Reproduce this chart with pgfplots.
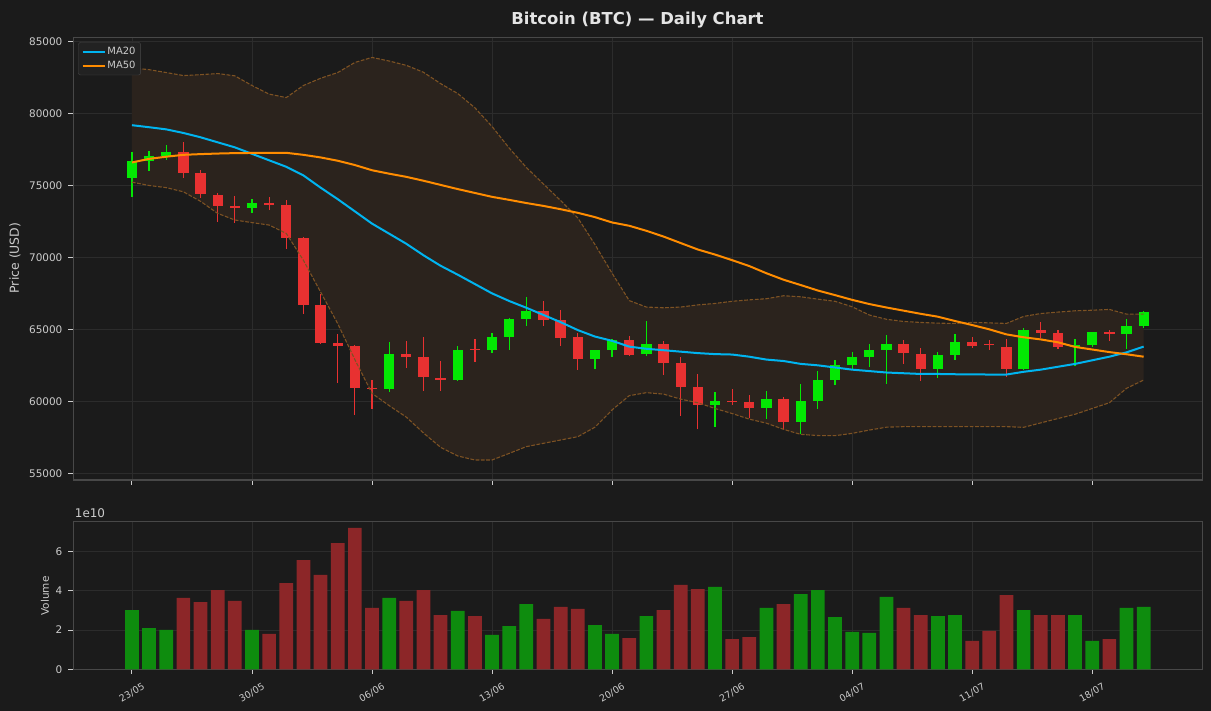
\documentclass[border=0pt]{standalone}
\usepackage{fontspec}
\setmainfont{DejaVu Sans}
\usepackage{pgfplots}
\pgfplotsset{compat=1.18}
\usepackage{pgfplotstable}

\definecolor{bg}{RGB}{27,27,27}
\definecolor{gridc}{RGB}{44,44,44}
\definecolor{spine}{RGB}{72,72,72}
\definecolor{txt}{RGB}{204,204,204}
\definecolor{ttl}{RGB}{228,228,228}
\definecolor{cgreen}{RGB}{3,232,3}
\definecolor{cred}{RGB}{232,49,49}
\definecolor{vgreen}{RGB}{14,140,14}
\definecolor{vred}{RGB}{140,38,40}
\definecolor{maA}{RGB}{0,180,240}
\definecolor{maB}{RGB}{255,140,0}
\definecolor{bandfill}{RGB}{43,35,29}
\definecolor{bandline}{RGB}{125,82,35}
\definecolor{legfill}{RGB}{34,34,34}

% moving averages and bands
\pgfplotstableread{
d ma20 ma50 up lo
0 79190 76600 83170 75230
1 79050 76850 83050 75000
2 78900 77000 82850 74850
3 78650 77130 82640 74560
4 78350 77180 82700 73900
5 78000 77220 82780 73060
6 77650 77250 82620 72600
7 77200 77260 81950 72420
8 76750 77270 81350 72250
9 76300 77270 81110 71670
10 75700 77130 81950 69800
11 74850 76950 82450 67600
12 74050 76720 82850 65400
13 73200 76420 83550 62900
14 72350 76060 83900 60550
15 71650 75820 83650 59700
16 70950 75600 83350 58900
17 70150 75330 82870 57800
18 69420 75040 82080 56800
19 68800 74750 81390 56200
20 68150 74480 80400 55920
21 67500 74210 79100 55920
22 66970 74000 77600 56380
23 66500 73780 76250 56850
24 66000 73580 75100 57080
25 65500 73350 73950 57310
26 64950 73100 72750 57540
27 64500 72800 70900 58200
28 64200 72430 68900 59400
29 63800 72200 67000 60390
30 63650 71850 66550 60600
31 63550 71450 66500 60500
32 63450 71000 66550 60150
33 63350 70550 66700 59900
34 63280 70200 66800 59500
35 63250 69810 66950 59150
36 63100 69400 67050 58760
37 62900 68900 67130 58480
38 62800 68450 67335 58050
39 62600 68080 67265 57700
40 62500 67700 67100 57620
41 62350 67380 66950 57610
42 62200 67050 66570 57770
43 62100 66760 66000 58000
44 62000 66520 65700 58200
45 61950 66300 65550 58237
46 61900 66080 65480 58237
47 61900 65880 65430 58237
48 61880 65580 65413 58237
49 61870 65300 65483 58237
50 61860 65000 65450 58237
51 61860 64650 65413 58237
52 62050 64450 65900 58191
53 62200 64300 66100 58500
54 62400 64100 66200 58800
55 62600 63780 66290 59100
56 62850 63600 66330 59500
57 63100 63420 66385 59900
58 63400 63270 66060 60900
59 63800 63100 66060 61480
}\matable

% band outline: upper edge forward, lower edge backward
\pgfplotstableread{
x y
0 83170
1 83050
2 82850
3 82640
4 82700
5 82780
6 82620
7 81950
8 81350
9 81110
10 81950
11 82450
12 82850
13 83550
14 83900
15 83650
16 83350
17 82870
18 82080
19 81390
20 80400
21 79100
22 77600
23 76250
24 75100
25 73950
26 72750
27 70900
28 68900
29 67000
30 66550
31 66500
32 66550
33 66700
34 66800
35 66950
36 67050
37 67130
38 67335
39 67265
40 67100
41 66950
42 66570
43 66000
44 65700
45 65550
46 65480
47 65430
48 65413
49 65483
50 65450
51 65413
52 65900
53 66100
54 66200
55 66290
56 66330
57 66385
58 66060
59 66060
59 61480
58 60900
57 59900
56 59500
55 59100
54 58800
53 58500
52 58191
51 58237
50 58237
49 58237
48 58237
47 58237
46 58237
45 58237
44 58200
43 58000
42 57770
41 57610
40 57620
39 57700
38 58050
37 58480
36 58760
35 59150
34 59500
33 59900
32 60150
31 60500
30 60600
29 60390
28 59400
27 58200
26 57540
25 57310
24 57080
23 56850
22 56380
21 55920
20 55920
19 56200
18 56800
17 57800
16 58900
15 59700
14 60550
13 62900
12 65400
11 67600
10 69800
9 71670
8 72250
7 72420
6 72600
5 73060
4 73900
3 74560
2 74850
1 75000
0 75230
}\bandpoly

% green candles: wicks (low, high) and bodies (open, close)
\pgfplotstableread{
x y
0 74212
0 77314
0 nan
1 76018
1 77384
1 nan
2 76782
2 77800
2 nan
7 73101
7 74050
7 nan
15 60670
15 64119
15 nan
19 61410
19 63841
19 nan
21 63378
21 64744
21 nan
22 63587
22 65786
22 nan
23 65253
23 67244
23 nan
27 62267
27 63600
27 nan
28 63101
28 64328
28 nan
30 63170
30 65578
30 nan
34 58239
34 60647
34 nan
37 58795
37 60716
37 nan
39 57704
39 61202
39 nan
40 59489
40 62105
40 nan
41 61156
41 62869
41 nan
42 62198
42 63425
42 nan
43 62406
43 63980
43 nan
44 61225
44 64605
44 nan
47 61642
47 63425
47 nan
48 62892
48 64675
48 nan
52 62198
52 65092
52 nan
55 62475
55 64328
55 nan
56 63795
56 64814
56 nan
58 63656
58 65717
58 nan
59 65115
59 66272
59 nan
}\gwick

\pgfplotstableread{
x y
0 75532
0 76689
0 nan
1 76712
1 77036
1 nan
2 77036
2 77314
2 nan
7 73448
7 73772
7 nan
15 60878
15 63285
15 nan
19 61480
19 63563
19 nan
21 63587
21 64466
21 nan
22 64489
22 65716
22 nan
23 65740
23 66249
23 nan
27 62962
27 63564
27 nan
28 63587
28 64258
28 nan
30 63309
30 63980
30 nan
34 59744
34 60022
34 nan
37 59559
37 60161
37 nan
39 58586
39 60022
39 nan
40 60045
40 61480
40 nan
41 61503
41 62522
41 nan
42 62545
42 63077
42 nan
43 63100
43 63564
43 nan
44 63587
44 63980
44 nan
47 62267
47 63216
47 nan
48 63240
48 64119
48 nan
52 62267
52 64953
52 nan
55 63795
55 63911
55 nan
56 63934
56 64814
56 nan
58 64698
58 65230
58 nan
59 65253
59 66203
59 nan
}\gbody

% red candles
\pgfplotstableread{
x y
3 75532
3 78009
3 nan
4 74143
4 76064
4 nan
5 72476
5 74467
5 nan
6 72407
6 74258
6 nan
8 73286
8 74189
8 nan
9 70577
9 73981
9 nan
10 66064
10 71420
10 nan
11 63980
11 67429
11 nan
12 61294
12 64675
12 nan
13 59072
13 63887
13 nan
14 59489
14 61479
14 nan
16 62336
16 64188
16 nan
17 60739
17 64494
17 nan
18 60739
18 62800
18 nan
20 62753
20 64328
20 nan
24 65253
24 66967
24 nan
25 63864
25 66342
25 nan
26 62198
26 64744
26 nan
29 63147
29 64536
29 nan
31 61850
31 64189
31 nan
32 59003
32 63077
32 nan
33 58051
33 61894
33 nan
35 59767
35 60855
35 nan
36 58841
36 60438
36 nan
38 58074
38 60300
38 nan
45 62614
45 64258
45 nan
46 61434
46 63703
46 nan
49 63726
49 64466
49 nan
50 63587
50 64258
50 nan
51 61712
51 64328
51 nan
53 64420
53 65508
53 nan
54 63656
54 64953
54 nan
57 64212
57 64953
57 nan
}\rwick

\pgfplotstableread{
x y
3 77314
3 75879
3 nan
4 75856
4 74420
4 nan
5 74328
5 73587
5 nan
6 73564
6 73448
6 nan
8 73772
8 73657
8 nan
9 73633
9 71365
9 nan
10 71342
10 66712
10 nan
11 66689
11 64072
11 nan
12 64049
12 63864
12 nan
13 63841
13 60947
13 nan
14 60947
14 60855
14 nan
16 63285
16 63100
16 nan
17 63077
17 61711
17 nan
18 61595
18 61480
18 nan
20 63620
20 63580
20 nan
24 66249
24 65670
24 nan
25 65647
25 64420
25 nan
26 64466
26 62962
26 nan
29 64258
29 63239
29 nan
31 63980
31 62684
31 nan
32 62661
32 61017
32 nan
33 60994
33 59767
33 nan
35 60022
35 59975
35 nan
36 59952
36 59559
36 nan
38 60161
38 58586
38 nan
45 63980
45 63332
45 nan
46 63286
46 62267
46 nan
49 64119
49 63865
49 nan
50 63960
50 63940
50 nan
51 63772
51 62267
51 nan
53 64953
53 64767
53 nan
54 64744
54 63795
54 nan
57 64814
57 64698
57 nan
}\rbody

% volume (units of 1e10)
\pgfplotstableread{
d v
0 3.01
1 2.10
2 2.00
7 2.00
15 3.63
19 2.97
21 1.75
22 2.20
23 3.32
27 2.25
28 1.80
30 2.71
34 4.19
37 3.12
39 3.83
40 4.03
41 2.66
42 1.90
43 1.85
44 3.68
47 2.71
48 2.76
52 3.01
55 2.76
56 1.44
58 3.12
59 3.17
}\volg

\pgfplotstableread{
d v
3 3.63
4 3.42
5 4.03
6 3.48
8 1.80
9 4.39
10 5.56
11 4.80
12 6.42
13 7.19
14 3.12
16 3.48
17 4.03
18 2.76
20 2.71
24 2.56
25 3.17
26 3.07
29 1.59
31 3.01
32 4.29
33 4.08
35 1.54
36 1.64
38 3.32
45 3.12
46 2.76
49 1.44
50 1.95
51 3.78
53 2.76
54 2.76
57 1.54
}\volr

\pgfplotsset{
  darkax/.style={
    scale only axis,
    anchor=south west,
    width=1129bp,
    xmin=-3.42, xmax=62.42,
    axis line style={spine, line width=1.1bp},
    grid=major,
    major grid style={gridc, line width=0.8bp},
    tick align=outside,
    major tick length=4.9bp,
    tick style={txt, line width=0.9bp},
    xtick pos=bottom, ytick pos=left,
    xtick={0,7,...,56},
    scaled y ticks=false,
    /pgf/number format/assume math mode=true,
    /pgf/number format/1000 sep={},
    ticklabel style={color=txt, font=\fontsize{10.5}{12}\selectfont},
    yticklabel shift=2.5bp,
  }
}

\begin{document}
\begin{tikzpicture}
\fill[bg] (0,0) rectangle (1211bp,711bp);

% ---------- price axis ----------
\begin{axis}[darkax,
  at={(73.3bp,231bp)},
  height=442.7bp,
  ymin=54530, ymax=85300,
  ytick={55000,60000,...,85000},
  xticklabels={},
  legend style={at={(0,1)}, anchor=north west, xshift=5bp, yshift=-5bp,
    fill=legfill, draw=spine, rounded corners=2bp, text=txt,
    font=\fontsize{10}{12}\selectfont, inner xsep=3bp, inner ysep=3bp,
    row sep=0.8bp},
  legend cell align=left,
  legend image code/.code={\draw[#1, line width=2bp] (0bp,0bp) -- (22bp,0bp);},
]
\addplot[draw=none, fill=bandfill, forget plot] table[x=x, y=y] {\bandpoly} -- cycle;

\addplot[cgreen, line width=1.2bp, unbounded coords=jump, forget plot] table[x=x, y=y] {\gwick};
\addplot[cred, line width=1.2bp, unbounded coords=jump, forget plot] table[x=x, y=y] {\rwick};
\addplot[cgreen, line width=10.3bp, line cap=butt, unbounded coords=jump, forget plot] table[x=x, y=y] {\gbody};
\addplot[cred, line width=10.3bp, line cap=butt, unbounded coords=jump, forget plot] table[x=x, y=y] {\rbody};

\addplot[bandline, line width=1.1bp, dash pattern=on 3.7bp off 1.6bp, forget plot] table[x=d, y=up] {\matable};
\addplot[bandline, line width=1.1bp, dash pattern=on 3.7bp off 1.6bp, forget plot] table[x=d, y=lo] {\matable};

\addplot[maA, line width=2bp] table[x=d, y=ma20] {\matable};
\addlegendentry{MA20}
\addplot[maB, line width=2bp] table[x=d, y=ma50] {\matable};
\addlegendentry{MA50}
\end{axis}

% ---------- volume axis ----------
\begin{axis}[darkax,
  at={(73.3bp,41.7bp)},
  height=148bp,
  ymin=0, ymax=7.53,
  ytick={0,2,4,6},
  xticklabels={23/05,30/05,06/06,13/06,20/06,27/06,04/07,11/07,18/07},
  xticklabel style={rotate=30, anchor=center, font=\fontsize{9.5}{11}\selectfont},
  xticklabel shift=18.5bp,
  ybar, bar width=0.8, bar shift=0pt,
]
\addplot[fill=vgreen, draw=none] table[x=d, y=v] {\volg};
\addplot[fill=vred, draw=none] table[x=d, y=v] {\volr};
\end{axis}

% ---------- texts ----------
\node[font=\fontsize{16.5}{20}\selectfont\bfseries, text=ttl] at (637.5bp,691bp) {Bitcoin (BTC) — Daily Chart};
\node[rotate=90, font=\fontsize{12.5}{15}\selectfont, text=txt] at (15bp,453bp) {Price (USD)};
\node[rotate=90, font=\fontsize{10.5}{12}\selectfont, text=txt] at (45bp,115bp) {Volume};
\node[anchor=base west, inner sep=0pt, font=\fontsize{12}{14}\selectfont, text=txt] at (74.7bp,193bp) {1e10};

\pgfresetboundingbox
\useasboundingbox (0,0) rectangle (1211bp,711bp);
\end{tikzpicture}
\end{document}
